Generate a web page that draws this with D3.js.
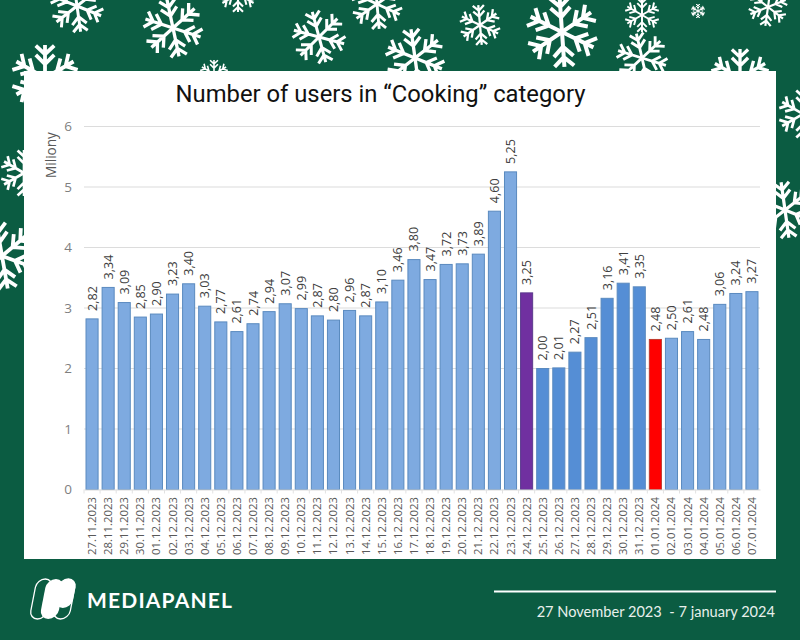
<!DOCTYPE html>
<html>
<head>
<meta charset="utf-8">
<script src="https://cdn.jsdelivr.net/npm/d3@7"></script>
<style>
  html, body { margin: 0; padding: 0; background: #0b5c42; }
  svg { display: block; }
</style>
</head>
<body>
<svg id="chart"></svg>
<script>
const dates = ["27.11.2023","28.11.2023","29.11.2023","30.11.2023","01.12.2023","02.12.2023","03.12.2023",
  "04.12.2023","05.12.2023","06.12.2023","07.12.2023","08.12.2023","09.12.2023","10.12.2023","11.12.2023",
  "12.12.2023","13.12.2023","14.12.2023","15.12.2023","16.12.2023","17.12.2023","18.12.2023","19.12.2023",
  "20.12.2023","21.12.2023","22.12.2023","23.12.2023","24.12.2023","25.12.2023","26.12.2023","27.12.2023",
  "28.12.2023","29.12.2023","30.12.2023","31.12.2023","01.01.2024","02.01.2024","03.01.2024","04.01.2024",
  "05.01.2024","06.01.2024","07.01.2024"];
const users = [2.82,3.34,3.09,2.85,2.90,3.23,3.40,3.03,2.77,2.61,2.74,2.94,3.07,2.99,2.87,2.80,2.96,2.87,3.10,3.46,
  3.80,3.47,3.72,3.73,3.89,4.60,5.25,3.25,2.00,2.01,2.27,2.51,3.16,3.41,3.35,2.48,2.50,2.61,2.48,3.06,3.24,3.27];
const yTicks = [0,1,2,3,4,5,6];
const holidayDate = "24.12.2023";
const newYearDate = "01.01.2024";
const darkDates = ["25.12.2023","26.12.2023","27.12.2023","28.12.2023","29.12.2023","30.12.2023","31.12.2023"];

// background decoration: x, y, radius, rotation
const flakes = [[77,6,26,-8],[173,28,29,-12],[319,37,26,-15],[377,4,25,-5],[238,-6,18,0],[45,78,33,0],[214,74,14,0],
  [415,58,29,-8],[480,25,20,-5],[562,32,35,-4],[642,15,17,0],[698,11,7,0],[768,7,19,8],[642,58,25,-13],[740,78,29,0],
  [24,173,23,0],[2,256,33,-10],[803,114,24,0],[785,210,28,-8]];

const width = 800, height = 640;
const green = "#0b5c42";

const svg = d3.select("#chart").attr("width", width).attr("height", height)
  .style("font-family", "Roboto, sans-serif");

svg.append("rect").attr("width", width).attr("height", height).attr("fill", green);

// płatki śniegu
const drawFlake = (g, r) => {
  d3.range(6).forEach((i) => {
    const arm = g.append("g").attr("transform", `rotate(${i * 60})`);
    const path = `M0,0V${-r}M0,${-r * 0.72}L${-r * 0.28},${-r * 0.98}M0,${-r * 0.72}L${r * 0.28},${-r * 0.98}` +
      `M0,${-r * 0.42}L${-r * 0.28},${-r * 0.7}M0,${-r * 0.42}L${r * 0.28},${-r * 0.7}`;
    arm.append("path").attr("d", path).attr("fill", "none").attr("stroke", "#fff")
      .attr("stroke-width", Math.max(1, r * 0.115));
  });
};
svg.append("g").selectAll("g").data(flakes).join("g")
  .attr("transform", (d) => `translate(${d[0]},${d[1]}) rotate(${d[3]})`)
  .each(function (d) { drawFlake(d3.select(this), d[2]); });

// panel
svg.append("rect").attr("x", 24).attr("y", 71).attr("width", 752).attr("height", 488).attr("fill", "#fff");

svg.append("text").attr("x", 380.5).attr("y", 102).attr("text-anchor", "middle")
  .attr("font-size", 23.8).attr("fill", "#111").text("Number of users in “Cooking” category");

const x = d3.scaleBand().domain(dates).range([84, 760]).paddingInner(0.25).paddingOuter(0.125);
const y = d3.scaleLinear().domain([0, 6]).range([489.5, 126.5]);

const grid = svg.append("g");
grid.selectAll("line").data(yTicks.filter((d) => d > 0)).join("line")
  .attr("x1", 84).attr("x2", 760)
  .attr("y1", (d) => y(d)).attr("y2", (d) => y(d))
  .attr("stroke", "#dcdcdc").attr("stroke-width", 1.2);

const barColor = (d) => {
  if (d === holidayDate) return "#7030a0";
  if (d === newYearDate) return "#ff0000";
  return darkDates.includes(d) ? "#558ed5" : "#7eaae0";
};
const barEdge = (d) => {
  if (d === holidayDate) return "#5b3a8c";
  if (d === newYearDate) return "#c0392b";
  return "#5a8abf";
};

svg.append("g").selectAll("rect").data(dates).join("rect")
  .attr("x", (d) => x(d))
  .attr("width", x.bandwidth())
  .attr("y", (d, i) => y(users[i]))
  .attr("height", (d, i) => y(0) - y(users[i]))
  .attr("fill", barColor)
  .attr("stroke", barEdge)
  .attr("stroke-width", 1);

// value labels
svg.append("g").selectAll("text").data(dates).join("text")
  .attr("transform", (d, i) => `translate(${x(d) + x.bandwidth() / 2 + 4.5},${y(users[i]) - 8}) rotate(-90)`)
  .attr("font-size", 12.6).attr("fill", "#404040")
  .attr("font-family", "'Open Sans', sans-serif")
  .text((d, i) => users[i].toFixed(2).replace(".", ","));

// x axis
const xAxis = svg.append("g").attr("transform", `translate(0,${y(0)})`)
  .call(d3.axisBottom(x).tickSize(0).tickPadding(0));
xAxis.select(".domain").attr("stroke", "#d9d9d9").attr("stroke-width", 1.2);
xAxis.selectAll("text")
  .attr("transform", "translate(4,7.5) rotate(-90)")
  .attr("text-anchor", "end").attr("dy", 0).attr("y", 0)
  .attr("font-size", 11.4).attr("fill", "#595959")
  .attr("font-family", "'Open Sans', sans-serif");
xAxis.append("g").selectAll("line").data(dates).join("line")
  .attr("x1", (d) => x(d) - x.step() * 0.125).attr("x2", (d) => x(d) - x.step() * 0.125)
  .attr("y1", 0).attr("y2", 4).attr("stroke", "#e2e2e2");

// y axis
const yAxis = svg.append("g").attr("transform", "translate(72,0)")
  .call(d3.axisLeft(y).tickValues(yTicks).tickFormat(d3.format("d")).tickSize(0).tickPadding(0));
yAxis.select(".domain").remove();
yAxis.selectAll("text").attr("font-size", 13.5).attr("fill", "#7f7f7f")
  .attr("font-family", "'Open Sans', sans-serif");

svg.append("text").attr("transform", "translate(56,155) rotate(-90)")
  .attr("text-anchor", "middle").attr("font-size", 13.6).attr("fill", "#595959")
  .attr("font-family", "'Open Sans', sans-serif").text("Miliony");

// footer
const logo = svg.append("g");
const pill = (px, w, h) => logo.append("rect")
  .attr("width", w).attr("height", h).attr("rx", w / 2)
  .attr("transform", `translate(${px},579) skewX(-11)`);
pill(37, 16.5, 40).attr("fill", "none").attr("stroke", "#fff").attr("stroke-width", 1.3);
pill(60, 16.5, 40).attr("fill", "none").attr("stroke", "#fff").attr("stroke-width", 1.3);
pill(47, 18, 40).attr("fill", "#fff");
pill(60, 17, 29).attr("fill", "#fff");

svg.append("text").attr("x", 87).attr("y", 608).attr("font-size", 21).attr("font-weight", 700)
  .attr("font-family", "Lato, sans-serif").attr("fill", "#fff")
  .attr("textLength", 145).attr("lengthAdjust", "spacing").text("MEDIAPANEL");

svg.append("line").attr("x1", 494).attr("x2", 776).attr("y1", 591.5).attr("y2", 591.5)
  .attr("stroke", "#fff").attr("stroke-width", 2);

svg.append("text").attr("x", 775).attr("y", 617).attr("text-anchor", "end")
  .attr("font-size", 14.6).attr("font-family", "Lato, sans-serif").attr("fill", "#e8f0ec")
  .style("white-space", "pre")
  .text("27 November 2023  - 7 january 2024");
</script>
</body>
</html>
